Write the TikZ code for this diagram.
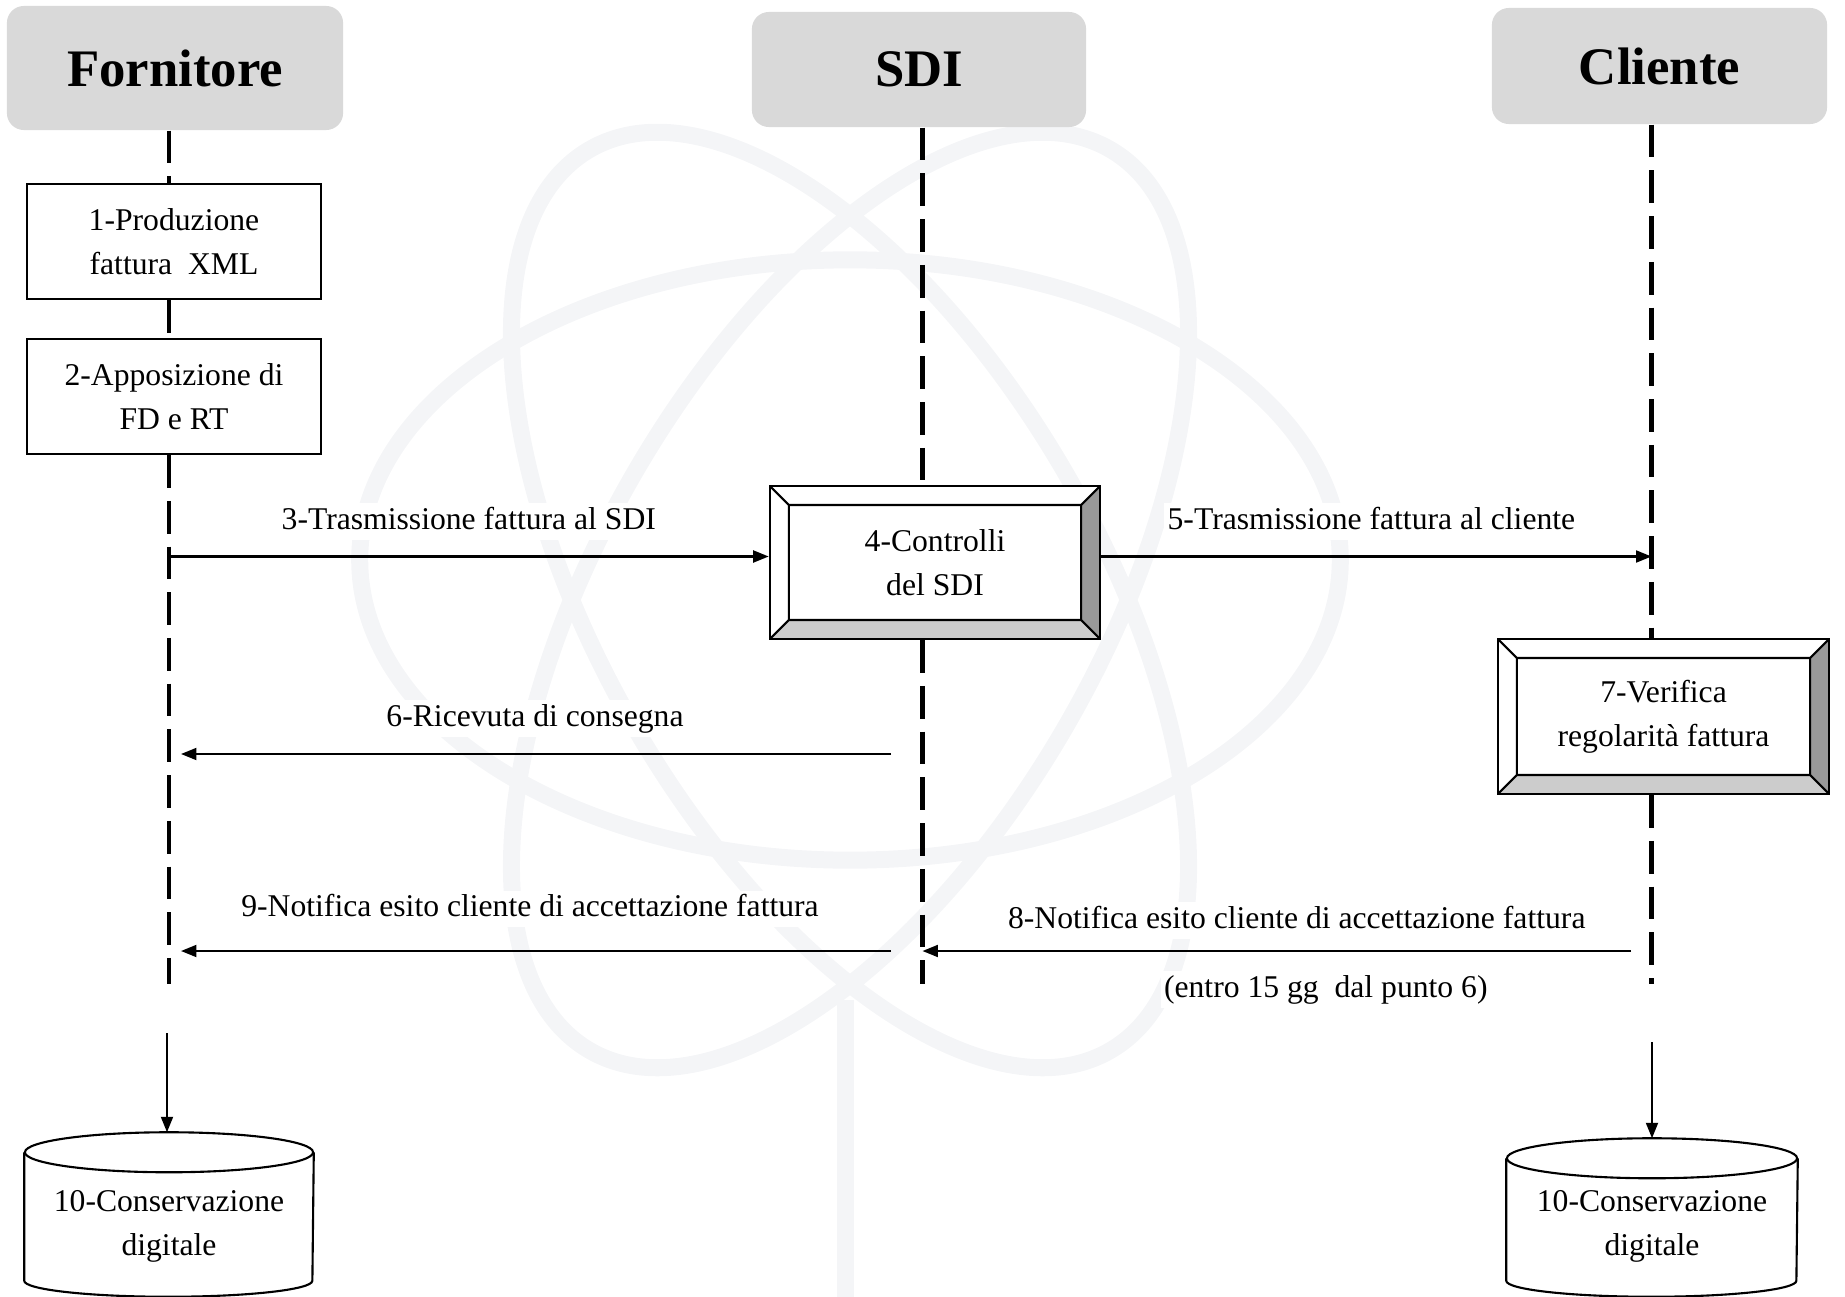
\documentclass[tikz,border=0pt]{standalone}
\usepackage{fontspec}
\setmainfont{Liberation Serif}
\usetikzlibrary{arrows.meta,positioning}

\definecolor{headgray}{RGB}{217,217,217}
\definecolor{bevdark}{RGB}{153,153,153}
\definecolor{bevlight}{RGB}{204,204,204}
\definecolor{wmark}{RGB}{244,245,247}

\tikzset{
  actor/.style={fill=headgray, rounded corners=0.17cm, inner sep=0pt,
    font=\fontsize{15}{18}\selectfont\bfseries},
  stepbox/.style={draw, line width=0.6pt, fill=white, align=center, inner sep=0pt,
    minimum width=2.94cm, minimum height=1.15cm, font=\fontsize{9}{12.5}\selectfont},
  bevelbox/.style={draw, line width=0.7pt, fill=white, align=center, inner sep=0pt,
    minimum width=3.3cm, minimum height=1.53cm, font=\fontsize{9}{12.5}\selectfont,
    path picture={
      \path (path picture bounding box.north west) coordinate (bvA)
            (path picture bounding box.north east) coordinate (bvB)
            (path picture bounding box.south east) coordinate (bvC)
            (path picture bounding box.south west) coordinate (bvD)
            ([shift={(0.19cm,-0.19cm)}]bvA) coordinate (bva)
            ([shift={(-0.19cm,-0.19cm)}]bvB) coordinate (bvb)
            ([shift={(-0.19cm,0.19cm)}]bvC) coordinate (bvc)
            ([shift={(0.19cm,0.19cm)}]bvD) coordinate (bvd);
      \fill[bevdark] (bvB) -- (bvC) -- (bvc) -- (bvb) -- cycle;
      \fill[bevlight] (bvD) -- (bvC) -- (bvc) -- (bvd) -- cycle;
      \draw[line width=0.6pt] (bva) rectangle (bvc) (bvA) -- (bva) (bvB) -- (bvb)
            (bvC) -- (bvc) (bvD) -- (bvd);
    }},
  dbbox/.style={inner sep=0pt, minimum width=2.88cm, minimum height=1.64cm},
  dbtext/.style={align=center, inner sep=0pt, font=\fontsize{9}{12.5}\selectfont},
  lifeline/.style={line width=1.3pt, dash pattern=on 9.3pt off 3.7pt},
  msg/.style={line width=0.6pt, -{Triangle[length=4.4pt,width=3.4pt]}},
  lbl/.style={fill=white, inner sep=1pt, text height=6.5pt, text depth=2pt,
    font=\fontsize{9}{12.5}\selectfont}
}

\begin{document}
\begin{tikzpicture}[x=0.01cm, y=-0.01cm]
\useasboundingbox (0,0) rectangle (1845,1297);

% logo in the background
\begin{scope}[draw=wmark, line width=0.17cm]
  \draw (850,560) ellipse [x radius=4.9cm, y radius=3cm];
  \draw[rotate around={60:(850,600)}] (850,600) ellipse [x radius=5.2cm, y radius=2.5cm];
  \draw[rotate around={-60:(850,600)}] (850,600) ellipse [x radius=5.2cm, y radius=2.5cm];
  \draw (845,1000) -- (845,1297);
\end{scope}

% actors
\node[actor, minimum width=3.36cm, minimum height=1.24cm] (forn) at (175,68) {Fornitore};
\node[actor, minimum width=3.34cm, minimum height=1.15cm] (sdi) at (919,69.5) {SDI};
\node[actor, minimum width=3.35cm, minimum height=1.16cm] (cli) at (1659.5,66) {Cliente};

% steps
\node[stepbox] (p1) at (174,241.5) {1-Produzione\\fattura~ XML};
\node[stepbox] (p2) at (174,396.5) {2-Apposizione di\\FD e RT};
\node[bevelbox] (p4) at (935,562.5) {4-Controlli\\del SDI};
\node[bevelbox, minimum width=3.31cm, minimum height=1.55cm] (p7) at (1663.5,716.5) {7-Verifica\\regolarità fattura};

% storage
\node[dbbox] (dbF) at (169,1215) {};
\draw[line width=0.6pt, fill=white] ([yshift=-0.2cm]dbF.north west) -- ([yshift=0.17cm]dbF.south west)
  arc[start angle=180, end angle=360, x radius=1.44cm, y radius=0.16cm] -- ([yshift=-0.2cm]dbF.north east);
\draw[line width=0.6pt] ([yshift=-0.2cm]dbF.north) ellipse [x radius=1.44cm, y radius=0.2cm];
\node[dbtext] (dbFtxt) at ([yshift=-0.11cm]dbF.center) {10-Conservazione\\digitale};

\node[dbbox, minimum width=2.9cm, minimum height=1.58cm] (dbC) at (1652,1218) {};
\draw[line width=0.6pt, fill=white] ([yshift=-0.2cm]dbC.north west) -- ([yshift=0.17cm]dbC.south west)
  arc[start angle=180, end angle=360, x radius=1.45cm, y radius=0.16cm] -- ([yshift=-0.2cm]dbC.north east);
\draw[line width=0.6pt] ([yshift=-0.2cm]dbC.north) ellipse [x radius=1.45cm, y radius=0.2cm];
\node[dbtext] (dbCtxt) at ([yshift=-0.08cm]dbC.center) {10-Conservazione\\digitale};

% lifelines
\coordinate (fEnd) at (169,984);
\coordinate (sEnd) at (922.5,984);
\coordinate (cEnd) at (1651.5,984);
\draw[lifeline] (forn.south -| fEnd) -- (p1.north -| fEnd);
\draw[lifeline] (p1.south -| fEnd) -- (p2.north -| fEnd);
\draw[lifeline] (p2.south -| fEnd) -- (fEnd);
\draw[lifeline] (sdi.south -| sEnd) -- (p4.north -| sEnd);
\draw[lifeline] (p4.south -| sEnd) -- (sEnd);
\draw[lifeline] (cli.south -| cEnd) -- (p7.north -| cEnd);
\draw[lifeline] (p7.south -| cEnd) -- (cEnd);

% messages
\coordinate (m3) at (169,556.5);
\coordinate (m6) at (891,754);
\coordinate (m9) at (891,951);
\coordinate (m8) at (1631,951);
\draw[msg] (m3) -- node[lbl, above=4.5pt] {3-Trasmissione fattura al SDI} (m3 -| p4.west);
\draw[msg] (m3 -| p4.east) -- node[lbl, above=4.5pt, xshift=-0.05cm] {5-Trasmissione fattura al cliente} (m3 -| cEnd);
\draw[msg, shorten >=0.12cm] (m6) -- node[lbl, above=4.5pt, xshift=0.05cm] {6-Ricevuta di consegna} (m6 -| fEnd);
\draw[msg] (m8) -- node[lbl, above=3pt, xshift=0.2cm] {8-Notifica esito cliente di accettazione fattura}
  node[lbl, below=5.5pt, xshift=0.49cm] {(entro 15 gg~ dal punto 6)} (m8 -| sEnd);
\draw[msg, shorten >=0.12cm] (m9) -- node[lbl, above=6.4pt] {9-Notifica esito cliente di accettazione fattura} (m9 -| fEnd);

% to storage
\coordinate (fDown) at (167,1033);
\coordinate (cDown) at (1652,1042);
\draw[msg] (fDown) -- (fDown |- dbF.north);
\draw[msg] (cDown) -- (cDown |- dbC.north);

\end{tikzpicture}
\end{document}
